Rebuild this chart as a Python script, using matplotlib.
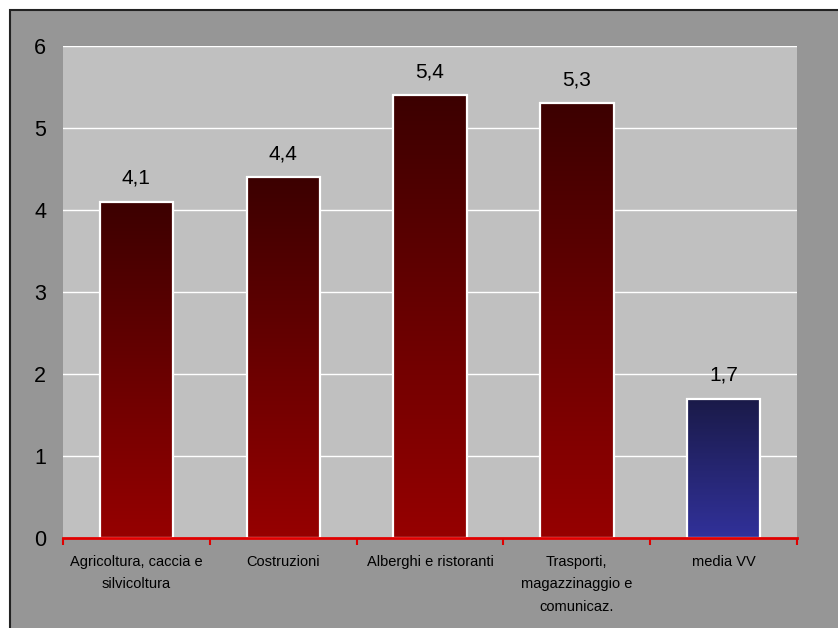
import numpy as np
from matplotlib import pyplot as plt
from matplotlib.colors import LinearSegmentedColormap
from matplotlib.patches import Rectangle

categories = ['Agricoltura, caccia e\nsilvicoltura', 'Costruzioni', 'Alberghi e ristoranti',
              'Trasporti,\nmagazzinaggio e\ncomunicaz.', 'media VV']
values = [4.1, 4.4, 5.4, 5.3, 1.7]
labels = ['4,1', '4,4', '5,4', '5,3', '1,7']
is_avg = [False, False, False, False, True]

plt.rcParams['font.family'] = ['Liberation Sans', 'DejaVu Sans']

fig = plt.figure(figsize=(8.38, 6.28), dpi=100)
fig.patch.set_facecolor('white')
W, H = 838, 628
# outer gray frame (picture is cropped on right and bottom)
fig.patches.append(Rectangle((10 / W, -0.1), 1.2, (H - 10) / H + 0.1, transform=fig.transFigure,
                             facecolor='#969696', edgecolor='#222222', linewidth=1.5, zorder=-5))

ax = fig.add_axes([63 / W, (H - 538) / H, (797 - 63) / W, (538 - 46) / H])
ax.set_facecolor('#C0C0C0')

red_cmap = LinearSegmentedColormap.from_list('r', ['#3c0000', '#960000'])
blue_cmap = LinearSegmentedColormap.from_list('b', ['#1a1a48', '#31319a'])
grad = np.linspace(0, 1, 256).reshape(-1, 1)

x = np.arange(len(values))
bars = ax.bar(x, values, width=0.5, facecolor='none', edgecolor='white', linewidth=1.6, zorder=3)
for b, avg in zip(bars, is_avg):
    x0, w, h = b.get_x(), b.get_width(), b.get_height()
    ax.imshow(grad, cmap=blue_cmap if avg else red_cmap, aspect='auto',
              extent=(x0, x0 + w, 0, h), origin='upper', zorder=2)
ax.set_xlim(-0.5, 4.5)
ax.set_ylim(0, 6)

for xi, v, lab in zip(x, values, labels):
    ax.annotate(lab, (xi, v), xytext=(0, 10), textcoords='offset points',
                ha='center', va='bottom', fontsize=15, color='black')

ax.set_yticks(range(0, 7))
ax.yaxis.grid(True, color='white', linewidth=1)
ax.set_axisbelow(True)
ax.tick_params(axis='y', length=0, pad=12, labelsize=15.5)

ax.set_xticks(x)
ax.set_xticklabels(categories, fontsize=10.5, linespacing=1.8, va='top')
ax.tick_params(axis='x', which='major', length=0, pad=12)
ax.set_xticks(np.arange(-0.5, 5, 1), minor=True)
ax.tick_params(axis='x', which='minor', length=5, width=1.5, color='#e00000', direction='out')

for s in ['left', 'right', 'top']:
    ax.spines[s].set_visible(False)
ax.spines['bottom'].set_color('#e00000')
ax.spines['bottom'].set_linewidth(2)
ax.spines['bottom'].set_zorder(4)

fig.savefig('out.png', dpi=100)
